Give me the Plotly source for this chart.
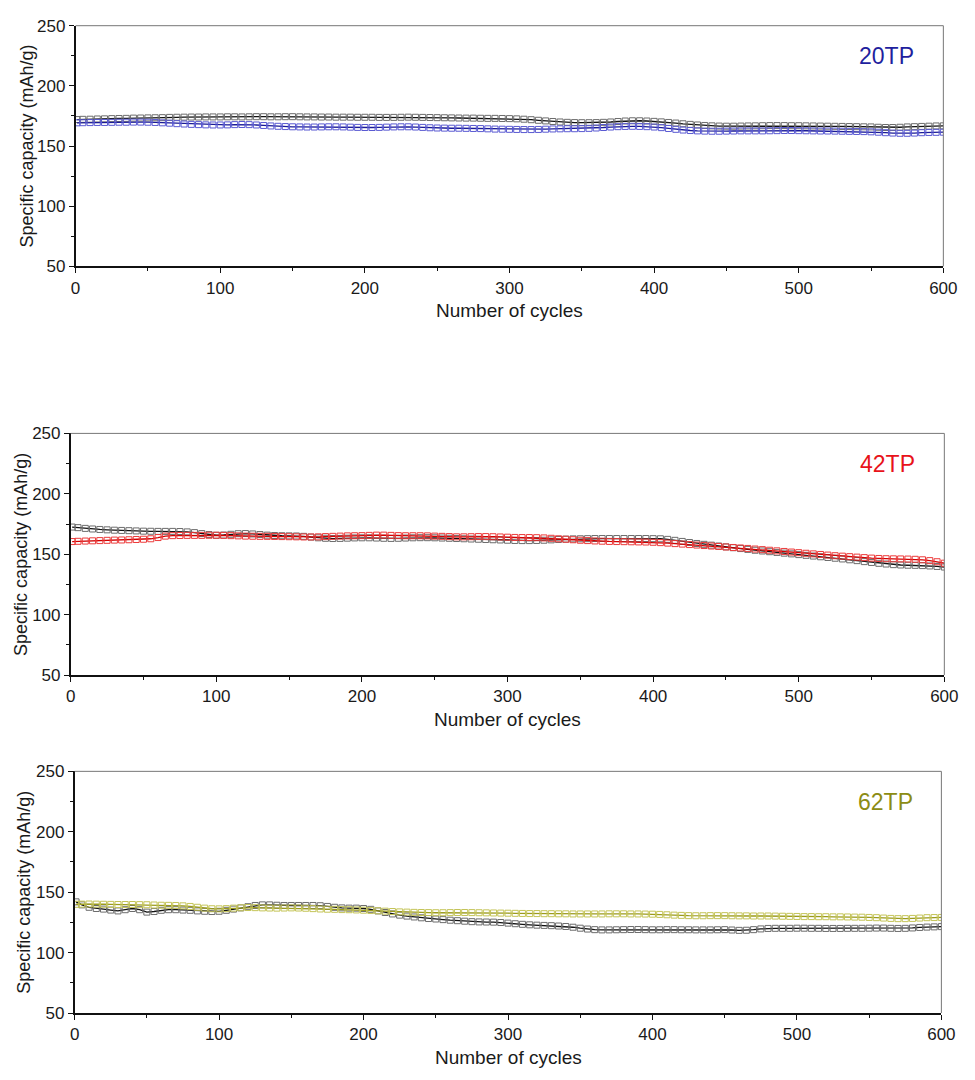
import plotly.graph_objects as go

# ---------------- data ----------------
cycles = [1] + list(range(5, 601, 5))

ref_20tp = [172.0,172.2,172.3,172.5,172.6,172.8,172.9,173.0,173.2,173.3,173.4,
            173.5,173.6,173.8,173.9,174.0,174.1,174.1,174.2,174.2,174.2,
            174.3,174.3,174.2,174.3,174.4,174.4,174.3,174.3,174.4,174.4,
            174.3,174.2,174.2,174.1,174.1,174.0,174.0,174.0,173.9,173.9,
            173.9,173.8,173.8,173.8,173.9,174.0,173.9,173.8,173.7,173.6,
            173.5,173.4,173.3,173.2,173.2,173.1,173.0,173.0,172.9,172.8,
            172.6,172.3,171.9,171.4,170.9,170.4,170.0,169.7,169.5,169.4,
            169.4,169.5,169.7,170.0,170.4,170.8,171.0,171.0,170.8,170.5,
            170.1,169.6,169.1,168.5,168.0,167.5,167.1,166.8,166.6,166.5,
            166.5,166.6,166.7,166.8,166.9,167.0,167.0,167.0,166.9,166.9,
            166.8,166.7,166.6,166.5,166.4,166.3,166.2,166.1,166.0,165.9,
            165.6,165.4,165.4,165.6,165.9,166.1,166.3,166.5,166.7,166.8]

tp20 = [169.3,169.4,169.5,169.6,169.6,169.7,169.8,169.8,169.9,169.9,169.8,
        169.6,169.3,169.0,168.6,168.3,168.0,167.8,167.6,167.5,167.5,
        167.6,167.8,167.9,167.8,167.5,167.1,166.7,166.4,166.2,166.0,
        165.9,165.8,165.8,165.9,166.0,166.0,165.9,165.7,165.5,165.4,
        165.4,165.5,165.7,165.9,166.0,166.0,165.8,165.5,165.2,165.0,
        164.9,164.8,164.8,164.7,164.6,164.5,164.3,164.1,164.0,163.9,
        163.8,163.7,163.7,163.8,164.0,164.2,164.3,164.4,164.4,164.5,
        164.7,165.0,165.4,165.8,166.1,166.3,166.4,166.3,166.1,165.8,
        165.3,164.6,163.9,163.3,162.9,162.6,162.4,162.3,162.3,162.4,
        162.5,162.6,162.6,162.6,162.6,162.7,162.8,162.9,162.9,162.8,
        162.7,162.6,162.5,162.5,162.4,162.3,162.2,162.1,162.0,161.8,
        161.5,161.1,160.8,160.6,160.6,160.8,161.1,161.3,161.4,161.5]

ref_42tp = [172.5,172.0,171.4,170.9,170.5,170.2,169.9,169.7,169.5,169.3,169.1,
            169.0,168.9,168.9,168.9,168.8,168.5,167.9,167.1,166.3,165.7,
            165.9,166.5,167.0,167.1,166.8,166.3,165.8,165.5,165.3,165.2,
            165.1,164.8,164.2,163.6,163.2,163.0,163.1,163.3,163.5,163.6,
            163.6,163.4,163.2,163.1,163.2,163.4,163.6,163.7,163.7,163.6,
            163.4,163.2,163.0,162.8,162.6,162.4,162.2,162.0,161.8,161.6,
            161.4,161.3,161.3,161.4,161.6,161.9,162.2,162.5,162.7,162.8,
            162.9,163.0,163.0,163.0,163.0,163.0,163.0,163.0,163.0,162.9,
            162.8,162.3,161.5,160.6,159.7,158.9,158.2,157.5,156.8,156.1,
            155.4,154.7,154.0,153.3,152.7,152.1,151.5,150.9,150.3,149.7,
            149.1,148.5,147.9,147.3,146.7,146.1,145.4,144.7,143.9,143.2,
            142.5,141.9,141.4,141.1,140.9,140.8,140.6,140.3,139.9,139.4]

tp42 = [160.5,160.7,160.9,161.1,161.3,161.5,161.7,161.8,162.0,162.2,162.4,
        162.8,163.8,165.0,165.4,165.5,165.6,165.6,165.6,165.7,165.7,
        165.6,165.4,165.2,165.0,164.9,164.8,164.8,164.7,164.6,164.5,
        164.4,164.3,164.3,164.4,164.6,164.8,165.0,165.2,165.3,165.4,
        165.6,165.8,165.8,165.6,165.4,165.3,165.3,165.3,165.2,165.0,
        164.8,164.6,164.4,164.4,164.5,164.6,164.6,164.5,164.3,164.1,
        163.9,163.8,163.8,163.7,163.5,163.2,162.8,162.4,162.0,161.6,
        161.3,161.0,160.8,160.6,160.5,160.4,160.3,160.2,160.1,159.9,
        159.6,159.2,158.8,158.4,158.0,157.6,157.2,156.8,156.4,156.0,
        155.6,155.2,154.8,154.3,153.8,153.3,152.8,152.3,151.8,151.3,
        150.8,150.3,149.8,149.3,148.8,148.4,148.0,147.6,147.2,146.8,
        146.5,146.3,146.2,146.1,146.0,145.8,145.4,144.7,143.8,142.6]

ref_62tp = [142.0,139.5,137.5,136.5,136.0,135.2,134.5,135.5,136.5,135.5,133.5,
            134.0,135.0,135.5,135.5,135.2,135.0,134.5,134.2,134.0,134.2,
            135.0,136.0,137.0,138.0,139.0,139.5,139.5,139.2,139.0,139.0,
            139.0,139.0,139.0,138.8,138.2,137.5,137.0,136.8,136.8,136.5,
            135.8,134.5,133.2,132.0,131.0,130.2,129.5,128.8,128.2,127.8,
            127.3,126.8,126.4,126.0,125.6,125.4,125.3,125.2,124.9,124.4,
            123.9,123.4,123.0,122.7,122.5,122.3,122.0,121.6,121.0,120.2,
            119.5,119.0,118.8,118.8,118.9,119.0,119.1,119.1,119.0,118.9,
            118.9,119.0,119.0,118.9,118.9,118.8,118.8,118.8,118.9,119.0,
            118.7,118.4,118.5,119.0,119.6,120.0,120.1,120.1,120.1,120.2,
            120.2,120.1,120.1,120.0,120.0,120.0,120.1,120.1,120.1,120.2,
            120.3,120.3,120.1,120.0,120.1,120.4,120.8,121.1,121.3,121.5]

tp62 = [140.0,140.1,140.2,140.1,140.0,139.9,139.8,139.8,139.8,139.7,139.6,
        139.4,139.2,139.1,139.0,138.7,138.2,137.5,136.8,136.3,136.2,
        136.4,136.8,137.1,137.3,137.2,137.0,136.9,136.8,136.9,137.0,
        136.9,136.7,136.4,136.1,135.9,135.8,135.6,135.5,135.3,135.1,
        134.9,134.6,134.3,134.0,133.7,133.5,133.3,133.2,133.1,133.0,
        133.0,133.1,133.2,133.2,133.1,133.0,132.9,132.8,132.7,132.6,
        132.5,132.4,132.3,132.3,132.2,132.2,132.1,132.1,132.0,132.0,
        132.0,132.0,132.0,132.1,132.1,132.1,132.0,132.0,131.9,131.8,
        131.6,131.3,131.0,130.8,130.6,130.5,130.5,130.6,130.6,130.6,
        130.5,130.4,130.4,130.3,130.3,130.3,130.2,130.1,130.0,129.9,
        129.8,129.8,129.7,129.7,129.6,129.6,129.5,129.4,129.3,129.1,
        128.9,128.6,128.3,128.1,128.1,128.3,128.6,128.9,129.0,129.1]

labels = ["20TP", "42TP", "62TP"]
x_ticks = [0, 100, 200, 300, 400, 500, 600]
y_ticks = [50, 100, 150, 200, 250]

# ---------------- style ----------------
FONT = "Liberation Sans, Arial, sans-serif"
panels = [
    dict(ref=ref_20tp, s=tp20, mcol="#5a5ad2", lcol="#1a1a96", tcol="#1f1f9e",
         xd=[72/975, 957/975], yd=[1-262/1080, 1-17/1080], ytx=22),
    dict(ref=ref_42tp, s=tp42, mcol="#ec3a3a", lcol="#d00000", tcol="#e8121a",
         xd=[67/975, 958/975], yd=[1-678/1080, 1-432/1080], ytx=17),
    dict(ref=ref_62tp, s=tp62, mcol="#c4c458", lcol="#9a9a1c", tcol="#8c8c14",
         xd=[71/975, 955/975], yd=[1-1022/1080, 1-776/1080], ytx=20),
]

fig = go.Figure()
layout = dict(autosize=True, margin=dict(l=0, r=0, t=0, b=0),
              paper_bgcolor="white", plot_bgcolor="white", showlegend=False,
              font=dict(family=FONT, color="#1a1a1a"))
annotations = []
shapes = []

for i, p in enumerate(panels):
    n = "" if i == 0 else str(i + 1)
    xa, ya = "x" + n, "y" + n
    fig.add_trace(go.Scatter(
        x=cycles, y=p["ref"], xaxis=xa, yaxis=ya, mode="lines+markers",
        line=dict(color="#111111", width=1.3),
        marker=dict(symbol="square-open", size=6, color="#6c6c6c",
                    line=dict(width=1))))
    fig.add_trace(go.Scatter(
        x=cycles, y=p["s"], xaxis=xa, yaxis=ya, mode="lines+markers",
        line=dict(color=p["lcol"], width=1.3),
        marker=dict(symbol="square-open", size=6, color=p["mcol"],
                    line=dict(width=1))))

    layout["xaxis" + n] = dict(
        domain=p["xd"], anchor=ya, range=[0, 600], tickvals=x_ticks,
        ticks="outside", ticklen=5, tickwidth=1.2, tickcolor="#111",
        showline=True, linecolor="#111", linewidth=1.5, showgrid=False,
        zeroline=False, tickfont=dict(size=17, family=FONT, color="#1a1a1a"),
        minor=dict(ticks="outside", ticklen=3, tickcolor="#111", dtick=50,
                   tick0=0, showgrid=False))
    layout["yaxis" + n] = dict(
        domain=p["yd"], anchor=xa, range=[50, 250], tickvals=y_ticks,
        ticks="outside", ticklen=5, tickwidth=1.2, tickcolor="#111",
        showline=True, linecolor="#111", linewidth=1.5, showgrid=False,
        zeroline=False, tickfont=dict(size=17, family=FONT, color="#1a1a1a"),
        minor=dict(ticks="outside", ticklen=3, tickcolor="#111", dtick=25,
                   tick0=0, showgrid=False))

    # top and right frame lines (thin, gray)
    shapes.append(dict(type="line", xref=xa + " domain", yref=ya + " domain",
                       x0=0, x1=1, y0=1, y1=1, line=dict(color="#777", width=1)))
    shapes.append(dict(type="line", xref=xa + " domain", yref=ya + " domain",
                       x0=1, x1=1, y0=0, y1=1, line=dict(color="#777", width=1)))

    # sample label
    annotations.append(dict(text=labels[i], xref=xa + " domain", yref=ya + " domain",
                            x=0.935, y=0.875, xanchor="center", yanchor="middle",
                            showarrow=False,
                            font=dict(size=23, family=FONT, color=p["tcol"])))
    # axis titles
    annotations.append(dict(text="Number of cycles", xref=xa + " domain",
                            yref="paper", x=0.5, y=p["yd"][0] - 45/1080,
                            xanchor="center", yanchor="middle", showarrow=False,
                            font=dict(size=19, family=FONT, color="#1a1a1a")))
    annotations.append(dict(text="Specific capacity (mAh/g)", xref="paper",
                            yref=ya + " domain", x=p["ytx"]/975, y=0.5,
                            xanchor="center", yanchor="middle", textangle=-90,
                            showarrow=False,
                            font=dict(size=18, family=FONT, color="#1a1a1a")))

layout["annotations"] = annotations
layout["shapes"] = shapes
fig.update_layout(**layout)
fig.write_html(
    "out.html",
    default_width="100vw", default_height="100vh",
    config={"displayModeBar": False, "responsive": True},
    post_script=("document.documentElement.style.overflow='hidden';"
                 "document.body.style.margin='0';"
                 "document.body.style.overflow='hidden';"
                 "Plotly.Plots.resize(document.getElementById('{plot_id}'));"))
